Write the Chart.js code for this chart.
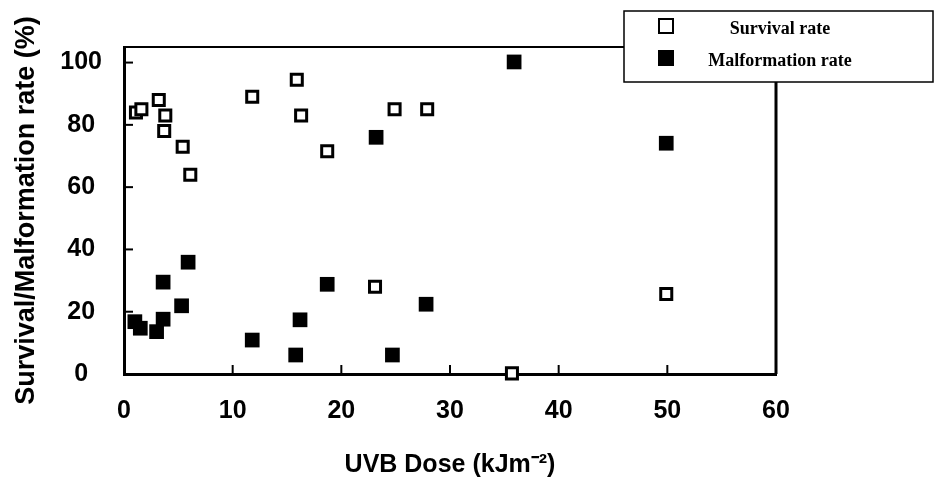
<!DOCTYPE html>
<html>
<head>
<meta charset="utf-8">
<script src="https://cdn.jsdelivr.net/npm/chart.js@4.4.0/dist/chart.umd.min.js"></script>
<style>
  html, body { margin: 0; padding: 0; background: #fff; }
  #wrap { width: 934px; height: 487px; }
</style>
</head>
<body>
<div id="wrap"><canvas id="doseChart" width="934" height="487"></canvas></div>
<script>
"use strict";

// data
var survivalDose = [1.1, 1.6, 3.2, 3.8, 3.7, 5.4, 6.1, 11.8, 15.9, 16.3, 18.7, 24.9, 27.9, 23.1, 35.7, 49.9];
var survivalRate = [84, 85, 88, 83, 78, 73, 64, 89, 94.5, 83, 71.5, 85, 85, 28, 0.2, 25.7];

var malformDose = [1.0, 1.5, 3.0, 3.6, 3.6, 5.3, 5.9, 11.8, 15.8, 16.2, 18.7, 23.2, 24.7, 27.8, 35.9, 49.9];
var malformRate = [16.8, 14.7, 13.6, 17.6, 29.5, 21.9, 35.9, 10.9, 6.1, 17.4, 28.8, 76, 6.1, 22.4, 100.2, 74.1];

var seriesLabels = ['Survival rate', 'Malformation rate'];
var xTicks = [0, 10, 20, 30, 40, 50, 60];
var yTicks = [0, 20, 40, 60, 80, 100];

function toPoints(xs, ys) {
  return xs.map(function (x, i) { return { x: x, y: ys[i] }; });
}

var sans = "'Liberation Sans', Arial, sans-serif";
var serif = "'Liberation Serif', 'Times New Roman', serif";

// box, inward tick marks
var frame = {
  id: 'frame',
  beforeDatasetsDraw: function (chart) {
    var ctx = chart.ctx;
    var a = chart.chartArea;
    var xs = chart.scales.x, ys = chart.scales.y;
    ctx.save();
    ctx.strokeStyle = '#000';
    ctx.lineWidth = 2;
    ctx.beginPath();
    ctx.moveTo(a.left, a.top);
    ctx.lineTo(a.right, a.top);
    ctx.stroke();
    ctx.lineWidth = 3;
    ctx.beginPath();
    ctx.moveTo(a.right, a.top);
    ctx.lineTo(a.right, a.bottom);
    ctx.stroke();
    ctx.lineWidth = 2;
    xTicks.forEach(function (v) {
      if (v === xTicks[0] || v === xTicks[xTicks.length - 1]) return;
      var px = xs.getPixelForValue(v);
      ctx.beginPath();
      ctx.moveTo(px, a.bottom);
      ctx.lineTo(px, a.bottom - 9);
      ctx.stroke();
    });
    yTicks.forEach(function (v) {
      if (v === 0) return;
      var py = ys.getPixelForValue(v);
      ctx.beginPath();
      ctx.moveTo(a.left, py);
      ctx.lineTo(a.left + 9, py);
      ctx.stroke();
    });
    ctx.restore();
  },
  afterDraw: function (chart) {
    // legend box in the top right corner
    var ctx = chart.ctx;
    var bx = 624, by = 11, bw = 309, bh = 71;
    ctx.save();
    ctx.fillStyle = '#fff';
    ctx.fillRect(bx, by, bw, bh);
    ctx.strokeStyle = '#000';
    ctx.lineWidth = 1.5;
    ctx.strokeRect(bx, by, bw, bh);
    var rows = [26, 58];
    ctx.font = 'bold 18px ' + serif;
    ctx.textAlign = 'center';
    ctx.textBaseline = 'middle';
    chart.data.datasets.forEach(function (ds, i) {
      var cy = rows[i];
      if (i === 0) {
        ctx.fillStyle = '#fff';
        ctx.fillRect(659, cy - 7, 14, 14);
        ctx.lineWidth = 2;
        ctx.strokeStyle = '#000';
        ctx.strokeRect(659, cy - 7, 14, 14);
      } else {
        ctx.fillStyle = '#000';
        ctx.fillRect(658, cy - 8, 16, 16);
      }
      ctx.fillStyle = '#000';
      ctx.fillText(ds.label, 780, cy + 3);
    });
    ctx.restore();
  }
};

var ctx = document.getElementById('doseChart').getContext('2d');
var myChart = new Chart(ctx, {
  type: 'scatter',
  data: {
    datasets: [{
      label: seriesLabels[0],
      data: toPoints(survivalDose, survivalRate),
      pointStyle: 'rect',
      pointRadius: 7.8,
      pointHoverRadius: 7.8,
      backgroundColor: '#fff',
      borderColor: '#000',
      borderWidth: 3,
      clip: false
    }, {
      label: seriesLabels[1],
      data: toPoints(malformDose, malformRate),
      pointStyle: 'rect',
      pointRadius: 10.4,
      pointHoverRadius: 10.4,
      backgroundColor: '#000',
      borderColor: '#000',
      borderWidth: 0,
      clip: false
    }]
  },
  options: {
    responsive: false,
    animation: false,
    layout: { padding: { top: 47, right: 158, left: 0, bottom: 0 } },
    plugins: {
      legend: { display: false },
      tooltip: { enabled: false }
    },
    scales: {
      x: {
        type: 'linear',
        min: 0,
        max: 60,
        afterBuildTicks: function (s) {
          s.ticks = xTicks.map(function (v) { return { value: v }; });
        },
        afterFit: function (s) { s.height = 113; },
        grid: { display: false, drawTicks: false },
        border: { display: true, color: '#000', width: 3 },
        ticks: {
          color: '#000',
          padding: 22,
          maxRotation: 0,
          font: { family: sans, size: 25, weight: 'bold' }
        },
        title: {
          display: true,
          text: 'UVB Dose (kJm\u207B\u00B2)',
          color: '#000',
          padding: { top: 0, bottom: 7 },
          font: { family: sans, size: 25, weight: 'bold' }
        }
      },
      y: {
        type: 'linear',
        min: 0,
        max: 105,
        afterBuildTicks: function (s) {
          s.ticks = yTicks.map(function (v) { return { value: v }; });
        },
        afterFit: function (s) { s.width = 124; },
        grid: { display: false, drawTicks: false },
        border: { display: true, color: '#000', width: 3 },
        ticks: {
          color: '#000',
          padding: 22,
          crossAlign: 'center',
          font: { family: sans, size: 25, weight: 'bold' }
        },
        title: {
          display: true,
          text: 'Survival/Malformation rate (%)',
          color: '#000',
          padding: { top: 10, bottom: 0 },
          font: { family: sans, size: 27, weight: 'bold' }
        }
      }
    }
  },
  plugins: [frame]
});
</script>
</body>
</html>
